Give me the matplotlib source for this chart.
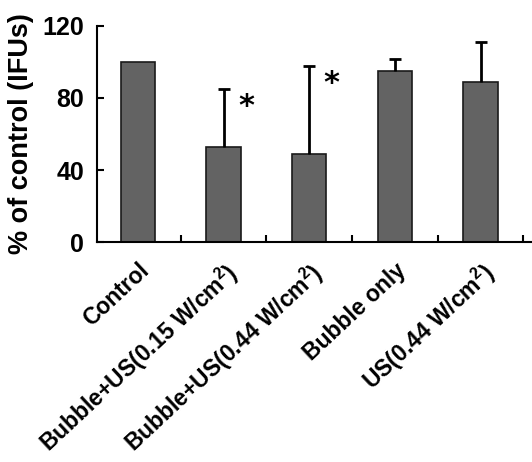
import matplotlib
matplotlib.use("Agg")
import matplotlib.pyplot as plt
import numpy as np

# data
groups = ["Control", "Bubble+US(0.15 W/cm$^2$)", "Bubble+US(0.44 W/cm$^2$)",
          "Bubble only", "US(0.44 W/cm$^2$)"]
means = [100, 53, 49, 95, 89]
errs = [0, 32, 49, 6.5, 22]
signif = [False, True, True, False, False]

plt.rcParams['font.family'] = ['Liberation Sans', 'DejaVu Sans']
plt.rcParams['mathtext.fontset'] = 'custom'
plt.rcParams['mathtext.rm'] = 'Liberation Sans:bold'

fig = plt.figure(figsize=(5.32, 4.62), dpi=100)
ax = fig.add_axes([0.182, 0.476, 0.818, 0.468])

x = np.arange(len(groups))
ax.bar(x, means, width=0.4, color='#636363', edgecolor='#1a1a1a', linewidth=1.2, zorder=2)
# control has no visible error bar
has_err = np.array(errs) > 0
eb = ax.errorbar(x[has_err], np.array(means)[has_err],
                 yerr=[np.zeros(has_err.sum()), np.array(errs)[has_err]],
                 fmt='none', ecolor='black', elinewidth=2, capsize=4, capthick=2, zorder=3)
# only the upper caps, as in the figure
eb[1][0].set_visible(False)

for i, s in enumerate(signif):
    if s:
        ax.text(x[i] + 0.26, means[i] + errs[i] - 10, '*', fontsize=22, fontweight='bold',
                ha='center', va='center', family='DejaVu Sans')

ax.set_xlim(-0.48, 4.6)
ax.set_ylim(0, 120)
ax.set_yticks([0, 40, 80, 120])
ax.tick_params(axis='y', direction='in', length=5, width=1.5, labelsize=18, pad=9)
for lab in ax.get_yticklabels():
    lab.set_fontweight('bold')

# ticks between the bars, labels under the bars
ax.set_xticks(x + 0.5, minor=False)
ax.set_xticklabels([])
ax.tick_params(axis='x', direction='in', length=5, width=1.5)
ax.set_xticks(x, minor=True)
ax.set_xticklabels(groups, minor=True, rotation=43, ha='right', rotation_mode='anchor',
                   fontsize=16.5, fontweight='bold')
ax.tick_params(axis='x', which='minor', length=0, pad=12)

ax.spines['top'].set_visible(False)
ax.spines['right'].set_visible(False)
ax.spines['left'].set_linewidth(1.5)
ax.spines['bottom'].set_linewidth(1.5)

ax.set_ylabel('% of control (IFUs)', fontsize=19.5, fontweight='bold', labelpad=6)

fig.savefig('out.png', dpi=100)
